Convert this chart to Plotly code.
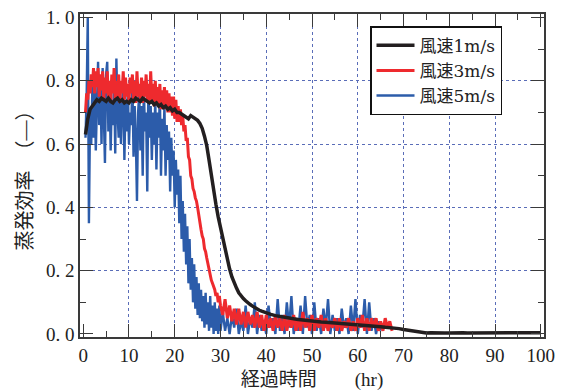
import numpy as np
import plotly.graph_objects as go

# ---------------- data ----------------
# 風速5m/s : 0.5-30 hr every 0.25 hr, then 30.5-65 hr every 0.5 hr
blue_t_a = np.arange(0.5, 30.0001, 0.25)
blue_v_a = [0.62, 0.75, 1.00, 0.35, 0.70, 0.60, 0.78, 0.62, 0.80, 0.58,
            0.72, 0.86, 0.66, 0.80, 0.60, 0.84, 0.70, 0.54, 0.82, 0.86,
            0.64, 0.78, 0.58, 0.74, 0.66, 0.82, 0.57, 0.87, 0.70, 0.62,
            0.76, 0.60, 0.72, 0.80, 0.55, 0.74, 0.64, 0.78, 0.60, 0.70,
            0.66, 0.80, 0.56, 0.72, 0.62, 0.42, 0.70, 0.76, 0.58, 0.72,
            0.50, 0.78, 0.64, 0.70, 0.45, 0.79, 0.62, 0.72, 0.55, 0.70,
            0.60, 0.74, 0.52, 0.70, 0.62, 0.76, 0.50, 0.68, 0.58, 0.72,
            0.50, 0.66, 0.55, 0.64, 0.45, 0.62, 0.50, 0.58, 0.40, 0.55,
            0.44, 0.52, 0.35, 0.50, 0.30, 0.42, 0.26, 0.38, 0.22, 0.34,
            0.16, 0.30, 0.14, 0.24, 0.10, 0.22, 0.08, 0.18, 0.06, 0.16,
            0.05, 0.14, 0.04, 0.12, 0.02, 0.13, 0.03, 0.10, 0.01, 0.12,
            0.02, 0.09, 0.00, 0.10, 0.01, 0.08, 0.00, 0.09, 0.01]
blue_t_b = np.arange(30.5, 65.0001, 0.5)
blue_v_b = [0.07, 0.01, 0.05, 0.00, 0.06, 0.02, 0.08, 0.00, 0.04, 0.01,
            0.09, 0.00, 0.05, 0.02, 0.10, 0.00, 0.06, 0.01, 0.04, 0.00,
            0.09, 0.02, 0.05, 0.00, 0.11, 0.01, 0.06, 0.00, 0.10, 0.02,
            0.12, 0.00, 0.05, 0.01, 0.09, 0.00, 0.12, 0.02, 0.06, 0.00,
            0.10, 0.01, 0.05, 0.00, 0.08, 0.02, 0.11, 0.00, 0.06, 0.01,
            0.05, 0.00, 0.08, 0.02, 0.05, 0.00, 0.09, 0.01, 0.11, 0.00,
            0.06, 0.02, 0.11, 0.00, 0.10, 0.01, 0.05, 0.00, 0.04, 0.01]

# 風速3m/s : 0.5-30 hr every 0.25 hr, then 30.5-67.5 hr every 0.5 hr
red_t_a = np.arange(0.5, 30.0001, 0.25)
red_v_a = [0.70, 0.76, 0.74, 0.80, 0.76, 0.82, 0.78, 0.84, 0.76, 0.83,
           0.78, 0.84, 0.75, 0.82, 0.77, 0.83, 0.74, 0.81, 0.76, 0.83,
           0.75, 0.80, 0.73, 0.82, 0.76, 0.84, 0.74, 0.80, 0.75, 0.82,
           0.73, 0.80, 0.76, 0.83, 0.74, 0.81, 0.75, 0.79, 0.73, 0.81,
           0.76, 0.82, 0.74, 0.80, 0.73, 0.83, 0.75, 0.79, 0.74, 0.81,
           0.73, 0.80, 0.75, 0.82, 0.74, 0.79, 0.73, 0.83, 0.74, 0.79,
           0.72, 0.80, 0.73, 0.78, 0.72, 0.79, 0.71, 0.77, 0.72, 0.78,
           0.71, 0.77, 0.70, 0.76, 0.70, 0.75, 0.69, 0.75, 0.68, 0.74,
           0.67, 0.72, 0.67, 0.71, 0.66, 0.69, 0.64, 0.66, 0.61, 0.62,
           0.56, 0.55, 0.50, 0.49, 0.46, 0.45, 0.43, 0.42, 0.40, 0.37,
           0.35, 0.33, 0.31, 0.30, 0.27, 0.26, 0.24, 0.22, 0.20, 0.19,
           0.17, 0.16, 0.15, 0.14, 0.12, 0.13, 0.10, 0.12, 0.09]
red_t_b = np.arange(30.5, 67.5001, 0.5)
red_v_b = [0.06, 0.11, 0.05, 0.09, 0.04, 0.08, 0.03, 0.08, 0.03, 0.07,
           0.02, 0.07, 0.03, 0.06, 0.02, 0.07, 0.02, 0.06, 0.01, 0.06,
           0.02, 0.05, 0.01, 0.06, 0.02, 0.05, 0.01, 0.06, 0.01, 0.05,
           0.02, 0.06, 0.01, 0.05, 0.01, 0.07, 0.02, 0.05, 0.01, 0.06,
           0.01, 0.05, 0.02, 0.06, 0.01, 0.05, 0.01, 0.04, 0.02, 0.05,
           0.01, 0.05, 0.01, 0.04, 0.02, 0.05, 0.01, 0.04, 0.01, 0.05,
           0.02, 0.06, 0.01, 0.05, 0.01, 0.05, 0.02, 0.05, 0.01, 0.04,
           0.01, 0.05, 0.02, 0.04, 0.01]

# 風速1m/s : 0.5-40 hr every 0.5 hr, then 41-100 hr every 1 hr
black_t_a = np.arange(0.5, 40.0001, 0.5)
black_v_a = [0.63, 0.68, 0.71, 0.72, 0.73, 0.74, 0.735, 0.745, 0.74, 0.735,
             0.745, 0.735, 0.73, 0.74, 0.745, 0.735, 0.74, 0.73, 0.735, 0.73,
             0.74, 0.735, 0.745, 0.74, 0.735, 0.745, 0.74, 0.735, 0.73, 0.735,
             0.725, 0.73, 0.72, 0.725, 0.715, 0.72, 0.71, 0.715, 0.705, 0.71,
             0.70, 0.70, 0.695, 0.69, 0.685, 0.68, 0.69, 0.685, 0.68, 0.675,
             0.665, 0.65, 0.625, 0.595, 0.55, 0.50, 0.455, 0.41, 0.37, 0.335,
             0.30, 0.265, 0.235, 0.205, 0.18, 0.16, 0.145, 0.13, 0.12, 0.112,
             0.105, 0.098, 0.093, 0.088, 0.083, 0.079, 0.075, 0.072, 0.069, 0.066]
black_t_b = np.arange(41, 100.0001, 1.0)
black_v_b = [0.062, 0.058, 0.055, 0.052, 0.050, 0.048, 0.046, 0.044, 0.042, 0.041,
             0.040, 0.038, 0.037, 0.036, 0.035, 0.034, 0.032, 0.031, 0.030, 0.029,
             0.028, 0.027, 0.025, 0.024, 0.023, 0.021, 0.020, 0.019, 0.017, 0.014,
             0.012, 0.010, 0.007, 0.005, 0.003, 0.004, 0.003, 0.004, 0.003, 0.003,
             0.004, 0.003, 0.004, 0.003, 0.003, 0.004, 0.003, 0.004, 0.003, 0.003,
             0.004, 0.003, 0.004, 0.003, 0.003, 0.004, 0.003, 0.004, 0.003, 0.004]

series_names = ["風速1m/s", "風速3m/s", "風速5m/s"]
x_tick_vals = [0, 10, 20, 30, 40, 50, 60, 70, 80, 90, 100]
y_tick_vals = [0.0, 0.2, 0.4, 0.6, 0.8, 1.0]
y_tick_text = ["0. 0", "0. 2", "0. 4", "0. 6", "0. 8", "1. 0"]
grid_x_vals = [10, 20, 30, 40, 50, 60, 70, 80, 90]
grid_y_vals = [0.2, 0.4, 0.6, 0.8]

# ---------------- figure ----------------
SERIF = "Liberation Serif, Noto Sans CJK JP, serif"
LEGFONT = "DejaVu Serif, Noto Sans CJK JP, serif"
AXC = "#3a3a3a"
GRIDC = "#5a6db8"
XR = [-0.7, 100.7]
YR = [-0.0095, 1.011]

fig = go.Figure()
fig.add_trace(go.Scatter(x=np.concatenate([blue_t_a, blue_t_b]), y=blue_v_a + blue_v_b,
                         mode="lines", name=series_names[2], legendrank=3,
                         line=dict(color="#2c5caa", width=2.4)))
fig.add_trace(go.Scatter(x=np.concatenate([red_t_a, red_t_b]), y=red_v_a + red_v_b,
                         mode="lines", name=series_names[1], legendrank=2,
                         line=dict(color="#ee2a2e", width=3)))
fig.add_trace(go.Scatter(x=np.concatenate([black_t_a, black_t_b]), y=black_v_a + black_v_b,
                         mode="lines", name=series_names[0], legendrank=1,
                         line=dict(color="#231f20", width=3.5)))

common = dict(showline=True, linecolor=AXC, linewidth=1.5, mirror="ticks",
              ticks="inside", ticklen=13, tickwidth=1.2, tickcolor=AXC,
              showgrid=False, zeroline=False, automargin=False,
              tickfont=dict(family=SERIF, size=19, color="#222"))

fig.update_layout(
    width=568, height=392,
    margin=dict(l=80, r=24, t=14, b=55),
    paper_bgcolor="white", plot_bgcolor="white",
    showlegend=True,
    legend=dict(x=0.625, y=0.962, xanchor="left", yanchor="top",
                bgcolor="white", bordercolor="#111", borderwidth=1.5,
                font=dict(family=LEGFONT, size=17, color="#222"),
                tracegroupgap=0, itemwidth=38),
    xaxis=dict(range=XR, tickmode="array", tickvals=x_tick_vals,
               minor=dict(dtick=5, tick0=0, ticks="inside", ticklen=6, tickcolor=AXC),
               title=dict(text="経過時間　　(hr)", standoff=8,
                          font=dict(family=SERIF, size=19, color="#222")),
               **common),
    yaxis=dict(range=YR, tickmode="array", tickvals=y_tick_vals,
               ticktext=y_tick_text,
               minor=dict(dtick=0.1, tick0=0, ticks="inside", ticklen=6, tickcolor=AXC),
               title=dict(text="蒸発効率　（—）", standoff=8,
                          font=dict(family=SERIF, size=20, color="#222")),
               **common),
    xaxis2=dict(overlaying="x", range=XR, tickmode="array", automargin=False,
                tickvals=grid_x_vals, showticklabels=False, ticks="",
                showgrid=True, gridcolor=GRIDC, gridwidth=1, griddash="3px,3px",
                zeroline=False, showline=False),
    yaxis2=dict(overlaying="y", range=YR, tickmode="array", automargin=False,
                tickvals=grid_y_vals, showticklabels=False, ticks="",
                showgrid=True, gridcolor=GRIDC, gridwidth=1, griddash="3px,3px",
                zeroline=False, showline=False),
)
# invisible trace to activate the grid axes
fig.add_trace(go.Scatter(x=[None], y=[None], xaxis="x2", yaxis="y2",
                         showlegend=False, hoverinfo="skip"))

fig.write_html("out.html", config={"displayModeBar": False},
               post_script="document.body.style.margin='0';document.body.style.overflow='hidden';")
